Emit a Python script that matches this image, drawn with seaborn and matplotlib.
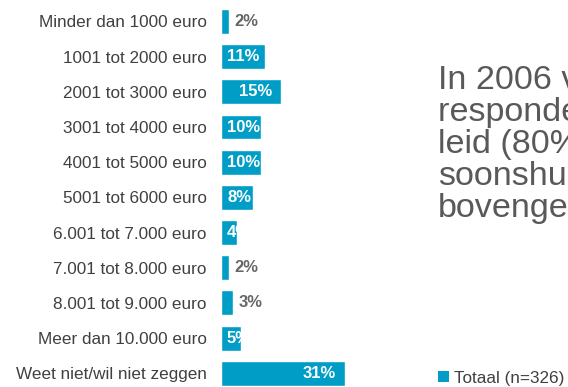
import matplotlib
matplotlib.use('Agg')
import matplotlib.pyplot as plt
import seaborn as sns
import pandas as pd
from matplotlib.patches import Patch

# Data
categories = ['Minder dan 1000 euro', '1001 tot 2000 euro', '2001 tot 3000 euro',
              '3001 tot 4000 euro', '4001 tot 5000 euro', '5001 tot 6000 euro',
              '6.001 tot 7.000 euro', '7.001 tot 8.000 euro', '8.001 tot 9.000 euro',
              'Meer dan 10.000 euro', 'Weet niet/wil niet zeggen']
values = [2, 11, 15, 10, 10, 8, 4, 2, 3, 5, 31]
series_name = 'Totaal (n=326)'
side_text = ['In 2006 verdiende de', 'respondenten met een', 'leid (80%) een',
             'soonshuishouden', 'bovengemiddeld']

bar_color = '#009EC6'
data = pd.DataFrame({'categorie': categories, 'procent': values})

sns.set_theme(style='white')
plt.rcParams['font.family'] = ['Liberation Sans', 'DejaVu Sans']

fig = plt.figure(figsize=(5.68, 3.87), dpi=100)
ax = fig.add_axes([221 / 568, -0.01, 160 / 568, 1.0])

sns.barplot(data=data, x='procent', y='categorie', orient='h', color=bar_color,
            saturation=1, width=0.71, ax=ax)

ax.set_xlim(0, 40)
ax.set_ylim(10.5, -0.5)
ax.set_xlabel('')
ax.set_ylabel('')
ax.set_xticks([])
sns.despine(ax=ax, left=True, bottom=True)
ax.tick_params(axis='y', length=0, pad=10.5, labelsize=12.3, labelcolor='#404040')

# value labels: small bars get a grey label outside, others white inside
for i, v in enumerate(values):
    label = '{}%'.format(v)
    if v <= 3:
        ax.text(v + 1.3, i, label, ha='left', va='center', color='#666666',
                fontsize=12, fontweight='bold')
    elif v < 12:
        ax.text(1.5, i, label, ha='left', va='center', color='white',
                fontsize=12, fontweight='bold')
    else:
        ax.text(v - 2.25, i, label, ha='right', va='center', color='white',
                fontsize=12, fontweight='bold')

# comment text on the right, cut off by the figure edge as in the original slide
fig.text(438 / 568, 1 - 65 / 387, '\n'.join(side_text), ha='left', va='top',
         fontsize=24.6, color='#595959', linespacing=1.045)

fig.legend(handles=[Patch(facecolor=bar_color, edgecolor='none', label=series_name)],
           loc='center left', bbox_to_anchor=(438 / 568, 1 - 378 / 387),
           frameon=False, fontsize=12.3, labelcolor='#404040',
           handlelength=0.65, handleheight=0.65, handletextpad=0.3,
           borderpad=0, borderaxespad=0)

fig.savefig('out.png', dpi=100)
